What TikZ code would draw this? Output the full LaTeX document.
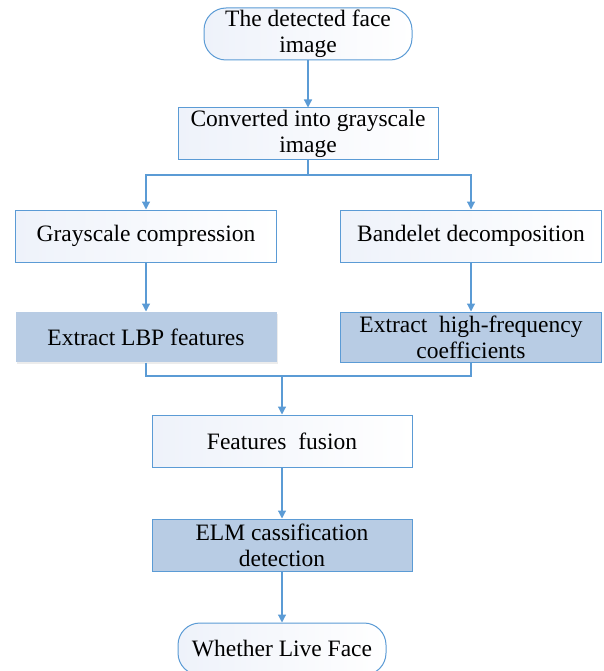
\documentclass[tikz,border=0pt]{standalone}
\usepackage{fontspec}
\setmainfont{Liberation Serif}
\usetikzlibrary{arrows.meta, calc, shadows}
\definecolor{lineblue}{RGB}{91,155,213}
\definecolor{boxfill}{RGB}{184,204,228}
\definecolor{boxlight}{RGB}{238,242,250}

\begin{document}
\begin{tikzpicture}[x=1pt, y=-1pt,
  txt/.style={align=center, inner sep=0pt, font=\rmfamily\fontsize{23.5}{26}\selectfont},
  box/.style={txt, draw=lineblue, line width=1pt, minimum width=260pt, minimum height=52pt, left color=boxlight, right color=white},
  darkbox/.style={txt, draw=lineblue, line width=1pt, minimum width=261pt, minimum height=50pt, fill=boxfill},
  term/.style={box, rounded corners=22pt, minimum width=208pt},
  arr/.style={lineblue, line width=1.2pt, -{Triangle[length=8pt,width=8pt]}},
  ln/.style={lineblue, line width=1.2pt}]
\useasboundingbox (0,0) rectangle (604,671);
% nodes
\node[term] (face) at (308,34) {The detected face\\image};
\node[box] (gray) at (308,134) {Converted into grayscale\\image};
\node[box, minimum width=261pt] (comp) at (146,236) {Grayscale compression};
\node[box, minimum width=261pt] (band) at (471,236) {Bandelet decomposition};
\node[darkbox, draw=none, drop shadow={shadow xshift=1pt, shadow yshift=-2pt, opacity=0.15, fill=gray}] (lbp) at (146,337) {Extract LBP features};
\node[darkbox] (high) at (471,337) {Extract\ \ high-frequency\\coefficients};
\node[box] (fuse) at (282,441) {Features\ \ fusion};
\node[darkbox, minimum width=260pt, minimum height=52pt] (elm) at (282,545) {ELM cassification\\detection};
\node[term] (live) at (282,649) {Whether Live Face};
\coordinate (split) at (308,175);
\coordinate (join) at (282,376);
% connectors
\draw[arr] (face) -- (gray);
\draw[ln] (gray) -- (split);
\draw[arr] (split) -| (comp);
\draw[arr] (split) -| (band);
\draw[arr] (comp) -- (lbp);
\draw[arr] (band) -- (high);
\draw[ln] (lbp.south) |- (join) -| (high.south);
\draw[arr] (join) -- (fuse);
\draw[arr] (fuse) -- (elm);
\draw[arr] (elm) -- (live);
\end{tikzpicture}
\end{document}
